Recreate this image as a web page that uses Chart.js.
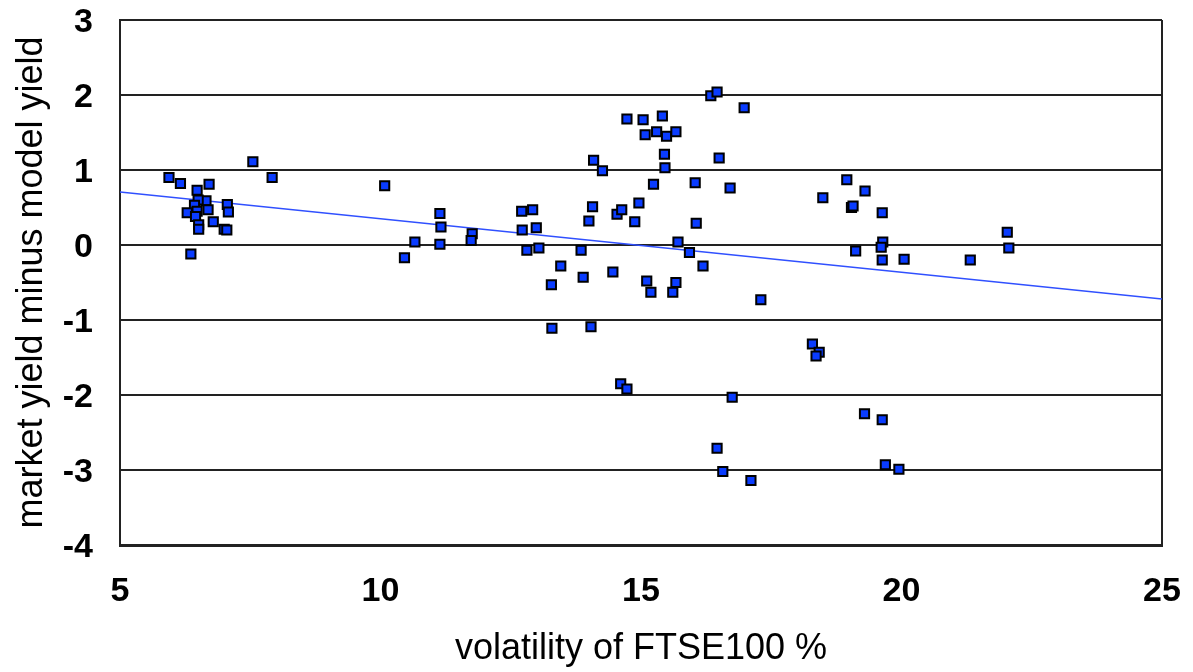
<!DOCTYPE html>
<html>
<head>
<meta charset="utf-8">
<script src="https://cdn.jsdelivr.net/npm/chart.js@4.4.1/dist/chart.umd.min.js"></script>
<style>
  html, body { margin: 0; padding: 0; background: #fff; }
  #wrap { width: 1193px; height: 672px; }
</style>
</head>
<body>
<div id="wrap"><canvas id="chart" width="1193" height="672"></canvas></div>
<script>
// volatility of FTSE100 (%) for each observation
const volatility = [
  5.94, 6.16, 7.55, 7.92, 6.48, 6.71, 6.65, 6.50, 6.43, 6.29, 6.48, 6.69, 7.06, 7.08,
  6.45, 6.79, 6.51, 6.51, 7.00, 7.05, 6.36,
  10.08, 10.46, 10.66, 11.14, 11.16, 11.14, 11.76, 11.74,
  12.71, 12.92, 12.72, 12.99, 12.81, 13.04, 13.28, 13.46, 13.29, 13.85, 13.89, 14.04,
  14.07, 14.00, 14.09, 14.26,
  14.54, 14.63, 14.46, 14.88, 14.96, 15.11, 15.19, 15.24, 14.73, 15.04, 15.41, 15.08,
  15.30, 15.49, 15.67, 15.45, 15.46, 15.67, 15.61, 15.71, 15.93, 14.61, 14.73,
  16.34, 16.46, 16.98, 16.50, 16.04, 16.71, 16.06, 16.19, 17.30, 16.75, 16.46, 16.57, 17.11,
  18.29, 18.42, 18.36, 18.49, 18.95, 19.30, 19.04, 19.07, 19.63, 19.64, 19.61, 19.12,
  19.63, 20.05, 21.32, 22.03, 22.06, 19.29, 19.63, 19.69, 19.95
];
// market yield minus model yield for the same observations
const yieldGap = [
  0.90, 0.82, 1.11, 0.90, 0.73, 0.81, 0.59, 0.60, 0.53, 0.43, 0.45, 0.47, 0.54, 0.44,
  0.38, 0.31, 0.27, 0.21, 0.21, 0.20, -0.12,
  0.79, -0.17, 0.04, 0.42, 0.24, 0.01, 0.15, 0.06,
  0.45, 0.47, 0.20, 0.23, -0.07, -0.04, -0.53, -0.28, -1.11, -0.07, -0.43, -1.09,
  0.51, 0.32, 1.13, 0.99,
  0.41, 0.47, -0.36, 0.31, 0.56, -0.48, -0.63, 0.81, 1.68, 1.67, 1.72, 1.47,
  1.51, 1.45, 1.51, 1.21, 1.03, -0.50, -0.63, 0.04, -0.10, -1.85, -1.92,
  1.99, 2.04, 1.83, 1.16, 0.83, 0.76, 0.29, -0.28, -0.73, -2.03, -2.71, -3.02, -3.14,
  -1.32, -1.43, -1.48, 0.63, 0.87, 0.72, 0.50, 0.52, 0.43, 0.04, -0.03, -0.08,
  -0.20, -0.19, -0.20, 0.17, -0.04, -2.25, -2.33, -2.93, -2.99
];
// fitted trend line end points
const trendX = [5, 25];
const trendY = [0.707, -0.72];

const scatterPoints = volatility.map((v, i) => ({ x: v, y: yieldGap[i] }));
const trendPoints = trendX.map((v, i) => ({ x: v, y: trendY[i] }));

const tickFont = { family: 'Liberation Sans, Arial, sans-serif', size: 34, weight: 'bold' };
const titleFont = { family: 'Liberation Sans, Arial, sans-serif', size: 36, weight: 'normal' };

// keep tick labels from pushing the plot area inwards
const noOverhang = (s) => {
  s.paddingTop = 0;
  s.paddingBottom = 0;
  s.paddingLeft = 0;
  s.paddingRight = 0;
};

new Chart(document.getElementById('chart').getContext('2d'), {
  type: 'scatter',
  data: {
    datasets: [
      {
        label: 'data',
        data: scatterPoints,
        pointStyle: 'rect',
        pointRadius: 6.5,
        backgroundColor: '#0a3cff',
        borderColor: '#000',
        borderWidth: 2,
        order: 1
      },
      {
        type: 'line',
        label: 'trend',
        data: trendPoints,
        borderColor: '#3050ff',
        borderWidth: 1.5,
        pointRadius: 0,
        fill: false,
        order: 2
      }
    ]
  },
  options: {
    responsive: false,
    animation: false,
    layout: { padding: { top: 20, right: 31, left: 0, bottom: 0 } },
    plugins: { legend: { display: false }, tooltip: { enabled: false } },
    scales: {
      x: {
        type: 'linear',
        min: 5,
        max: 25,
        afterFit: (s) => { s.height = 127; noOverhang(s); },
        ticks: { stepSize: 5, color: '#000', font: tickFont, padding: 26, maxRotation: 0 },
        grid: {
          drawTicks: false,
          lineWidth: 2,
          color: (ctx) => (ctx.tick && ctx.tick.value === 25 ? '#222' : 'rgba(0,0,0,0)')
        },
        border: { display: true, color: '#222', width: 3 },
        title: {
          display: true,
          text: 'volatility of FTSE100 %',
          color: '#000',
          font: titleFont,
          padding: { top: 10, bottom: 1 }
        }
      },
      y: {
        type: 'linear',
        min: -4,
        max: 3,
        afterFit: (s) => { s.width = 120; noOverhang(s); },
        ticks: { stepSize: 1, color: '#000', font: tickFont, padding: 27, labelOffset: 3 },
        grid: { drawTicks: false, lineWidth: 2, color: '#222' },
        border: { display: true, color: '#222', width: 2 },
        title: {
          display: true,
          text: 'market yield minus model yield',
          color: '#000',
          font: titleFont,
          padding: { top: 10, bottom: 4 }
        }
      }
    }
  }
});
</script>
</body>
</html>
